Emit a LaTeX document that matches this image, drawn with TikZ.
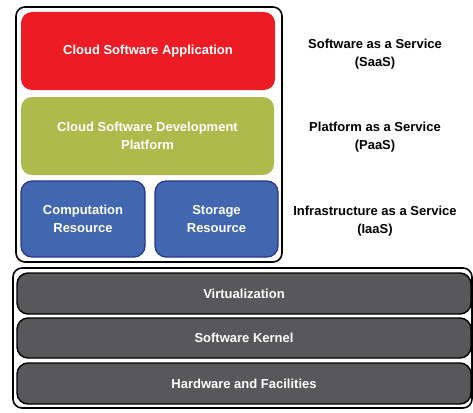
\documentclass[tikz,border=0pt]{standalone}
\usepackage{fontspec}
\setmainfont{Liberation Sans}
\definecolor{saasred}{HTML}{ED1C24}
\definecolor{paasgreen}{HTML}{AEBA4B}
\definecolor{iaasblue}{HTML}{4167B1}
\definecolor{iaasedge}{HTML}{27358C}
\definecolor{layergray}{HTML}{58585B}

\begin{document}
\begin{tikzpicture}[x=1pt,y=-1pt,
    box/.style={rounded corners=11pt,inner sep=0pt,font=\bfseries\fontsize{13}{18}\selectfont,text=white,align=center},
    frame/.style={draw=black,line width=1.6pt,rounded corners=9pt,inner sep=0pt},
    layer/.style={box,fill=layergray,draw=black,line width=1.4pt,minimum width=454pt,minimum height=41pt},
    tag/.style={font=\bfseries\fontsize{13}{18}\selectfont,align=center}]
\useasboundingbox (0,0) rectangle (473,412);

% Cloud services
\node[frame,minimum width=266pt,minimum height=255pt] (cloud) at (149,134.5) {};
\node[box,fill=saasred,minimum width=254pt,minimum height=78pt] (saas) at (148,51) {Cloud Software Application};
\node[box,fill=paasgreen,minimum width=253pt,minimum height=78pt] (paas) at (147.5,136) {Cloud Software Development\\Platform};
\node[box,fill=iaasblue,draw=iaasedge,line width=1.2pt,minimum width=124pt,minimum height=76pt] (comp) at (83,219) {Computation\\Resource};
\node[box,fill=iaasblue,draw=iaasedge,line width=1.2pt,minimum width=123pt,minimum height=76pt] (stor) at (216.5,219) {Storage\\Resource};

% Service models
\node[tag] (saastag) at (375,54) {Software as a Service\\(SaaS)};
\node[tag] (paastag) at (375,137) {Platform as a Service\\(PaaS)};
\node[tag] (iaastag) at (375,221) {Infrastructure as a Service\\(IaaS)};

% Base layers
\node[frame,minimum width=459pt,minimum height=140pt] (base) at (242.5,338) {};
\node[layer] (virt) at (244,293.5) {Virtualization};
\node[layer,minimum height=40pt] (kernel) at (244,338) {Software Kernel};
\node[layer] (hw) at (244,383.5) {Hardware and Facilities};
\end{tikzpicture}
\end{document}
